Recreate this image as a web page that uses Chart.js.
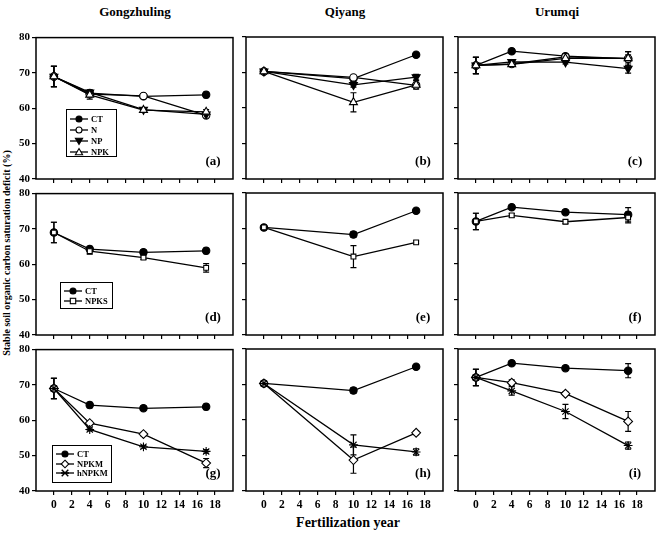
<!DOCTYPE html>
<html>
<head>
<meta charset="utf-8">
<title>Stable soil organic carbon saturation deficit</title>
<script src="https://cdn.jsdelivr.net/npm/chart.js@4.4.1/dist/chart.umd.min.js"></script>
<style>
    body {
        margin: 0;
        width: 660px;
        height: 533px;
        position: relative;
        overflow: hidden;
        background: #fff;
        color: #000;
        font-family: "Liberation Serif", "Times New Roman", serif;
        font-weight: bold;
    }
    canvas { position: absolute; }
    .titulo { position: absolute; top: 4px; font-size: 13px; transform: translateX(-50%); white-space: nowrap; }
    .rotulo { position: absolute; font-size: 13px; transform: translate(-50%, -50%); }
    #eixoY {
        position: absolute; left: 6px; top: 253px; font-size: 10px; white-space: nowrap;
        transform: translate(-50%, -50%) rotate(-90deg);
    }
    #eixoX { position: absolute; left: 348px; top: 523px; font-size: 14px; transform: translate(-50%, -50%); white-space: nowrap; }
    .legenda { position: absolute; border: 1.5px solid #000; box-sizing: border-box; background: #fff; font-size: 8.5px; }
    .legenda div { display: flex; align-items: center; }
    .legenda svg { margin-right: 3px; }
</style>
</head>
<body>

<div class="titulo" style="left:135px">Gongzhuling</div>
<div class="titulo" style="left:345px">Qiyang</div>
<div class="titulo" style="left:557px">Urumqi</div>
<div id="eixoY">Stable soil organic carbon saturation deficit (%)</div>
<div id="eixoX">Fertilization year</div>

<script>
// === Dados ===
const anosGZ = [0, 4, 10, 17];   // Gongzhuling
const anosQY = [0, 10, 17];      // Qiyang
const anosUR = [0, 4, 10, 17];   // Urumqi

const ticksX = [0, 2, 4, 6, 8, 10, 12, 14, 16, 18];
const ticksY = [40, 50, 60, 70, 80];

// Gongzhuling
const gzCT = [69.0, 64.3, 63.4, 63.8];
const gzCTerr = [2.9, 0.8, 0.6, 0.8];
const gzN = [69.0, 64.0, 63.5, 58.0];
const gzNerr = [2.9, 0.6, 0.5, 0.6];
const gzNP = [69.0, 64.5, 59.6, 58.3];
const gzNPerr = [2.9, 0.7, 0.5, 0.6];
const gzNPK = [69.0, 63.8, 59.5, 59.0];
const gzNPKerr = [2.9, 1.2, 0.5, 0.6];
const gzNPKS = [69.0, 63.7, 61.9, 59.0];
const gzNPKSerr = [2.9, 0.8, 0.5, 1.2];
const gzNPKM = [69.0, 59.2, 56.1, 47.9];
const gzNPKMerr = [2.9, 0.5, 0.5, 1.3];
const gzhNPKM = [69.0, 57.4, 52.5, 51.2];
const gzhNPKMerr = [2.9, 0.4, 0.4, 0.5];

// Qiyang
const qyCT = [70.3, 68.3, 75.0];
const qyCTerr = [0.4, 0.8, 0.5];
const qyN = [70.3, 68.6, 66.4];
const qyNerr = [0.4, 0.6, 0.8];
const qyNP = [70.3, 66.5, 68.7];
const qyNPerr = [0.4, 0.6, 0.8];
const qyNPK = [70.3, 61.6, 66.5];
const qyNPKerr = [0.4, 2.7, 1.2];
const qyNPKS = [70.3, 62.1, 66.1];
const qyNPKSerr = [0.4, 3.1, 0.4];
const qyNPKM = [70.3, 48.7, 56.4];
const qyNPKMerr = [0.4, 3.7, 0.5];
const qyhNPKM = [70.3, 53.0, 51.0];
const qyhNPKMerr = [0.4, 2.8, 0.9];

// Urumqi
const urCT = [72.0, 76.0, 74.6, 73.9];
const urCTerr = [2.3, 0.6, 0.5, 2.0];
const urN = [72.0, 72.4, 74.4, 73.9];
const urNerr = [2.3, 0.5, 0.5, 2.0];
const urNP = [72.0, 73.0, 72.9, 71.1];
const urNPerr = [2.3, 0.5, 0.5, 1.3];
const urNPK = [72.0, 72.3, 74.0, 74.0];
const urNPKerr = [2.3, 0.5, 0.5, 1.0];
const urNPKS = [72.0, 73.7, 71.9, 73.1];
const urNPKSerr = [2.3, 0.5, 0.5, 1.5];
const urNPKM = [72.0, 70.5, 67.4, 59.6];
const urNPKMerr = [2.3, 0.8, 0.5, 2.8];
const urhNPKM = [72.0, 68.2, 62.4, 52.8];
const urhNPKMerr = [2.3, 1.2, 2.0, 1.0];

// === Estilo dos marcadores por tratamento ===
const estilos = {
    CT: { pointStyle: "circle", fill: "#000", radius: 3.7 },
    N: { pointStyle: "circle", fill: "#fff", radius: 3.7 },
    NP: { pointStyle: "triangle", fill: "#000", radius: 4.6, rotation: 180 },
    NPK: { pointStyle: "triangle", fill: "#fff", radius: 4.6 },
    NPKS: { pointStyle: "rect", fill: "#fff", radius: 3.4 },
    NPKM: { pointStyle: "rectRot", fill: "#fff", radius: 4.4 },
    hNPKM: { pointStyle: "star", fill: "#000", radius: 4.4 },
};

// === Área de plotagem de cada painel (px na página) ===
const colunas = [36, 246, 458];
const linhas = [37, 193, 349];
const larguraPlot = 197;
const alturaPlot = 142;

const painéis = [
    { letra: "a", col: 0, lin: 0, anos: anosGZ, series: [["CT", gzCT, gzCTerr], ["N", gzN, gzNerr], ["NP", gzNP, gzNPerr], ["NPK", gzNPK, gzNPKerr]],
      legenda: { left: 66, top: 109, w: 51, h: 48, linha: 11 } },
    { letra: "b", col: 1, lin: 0, anos: anosQY, series: [["CT", qyCT, qyCTerr], ["N", qyN, qyNerr], ["NP", qyNP, qyNPerr], ["NPK", qyNPK, qyNPKerr]] },
    { letra: "c", col: 2, lin: 0, anos: anosUR, series: [["CT", urCT, urCTerr], ["N", urN, urNerr], ["NP", urNP, urNPerr], ["NPK", urNPK, urNPKerr]] },
    { letra: "d", col: 0, lin: 1, anos: anosGZ, series: [["CT", gzCT, gzCTerr], ["NPKS", gzNPKS, gzNPKSerr]],
      legenda: { left: 60, top: 282, w: 53, h: 27, linha: 10 } },
    { letra: "e", col: 1, lin: 1, anos: anosQY, series: [["CT", qyCT, qyCTerr], ["NPKS", qyNPKS, qyNPKSerr]] },
    { letra: "f", col: 2, lin: 1, anos: anosUR, series: [["CT", urCT, urCTerr], ["NPKS", urNPKS, urNPKSerr]] },
    { letra: "g", col: 0, lin: 2, anos: anosGZ, series: [["CT", gzCT, gzCTerr], ["NPKM", gzNPKM, gzNPKMerr], ["hNPKM", gzhNPKM, gzhNPKMerr]],
      legenda: { left: 52, top: 445, w: 60, h: 38, linha: 9.7 } },
    { letra: "h", col: 1, lin: 2, anos: anosQY, series: [["CT", qyCT, qyCTerr], ["NPKM", qyNPKM, qyNPKMerr], ["hNPKM", qyhNPKM, qyhNPKMerr]] },
    { letra: "i", col: 2, lin: 2, anos: anosUR, series: [["CT", urCT, urCTerr], ["NPKM", urNPKM, urNPKMerr], ["hNPKM", urhNPKM, urhNPKMerr]] },
];

// === Plugin: barras de erro e moldura ===
const barrasErro = {
    id: "barrasErro",
    beforeDatasetsDraw(chart) {
        const ctx = chart.ctx;
        const x = chart.scales.x, y = chart.scales.y;
        ctx.save();
        ctx.strokeStyle = "#000";
        ctx.lineWidth = 1.2;
        chart.data.datasets.forEach((ds) => {
            ds.data.forEach((p, i) => {
                const e = ds.erros[i];
                if (!e) return;
                const px = x.getPixelForValue(p.x);
                const y1 = y.getPixelForValue(p.y + e);
                const y2 = y.getPixelForValue(p.y - e);
                ctx.beginPath();
                ctx.moveTo(px, y1); ctx.lineTo(px, y2);
                ctx.moveTo(px - 3, y1); ctx.lineTo(px + 3, y1);
                ctx.moveTo(px - 3, y2); ctx.lineTo(px + 3, y2);
                ctx.stroke();
            });
        });
        ctx.restore();
    },
    afterDraw(chart) {
        const a = chart.chartArea;
        const ctx = chart.ctx;
        ctx.save();
        ctx.strokeStyle = "#000";
        ctx.lineWidth = 1.5;
        ctx.strokeRect(a.left, a.top, a.right - a.left, a.bottom - a.top);
        ctx.restore();
    },
};

// === Símbolo SVG para a legenda ===
function simbolo(nome, largura) {
    const s = estilos[nome];
    const c = largura / 2;
    let m = "";
    const attr = `fill="${s.fill}" stroke="#000" stroke-width="1.1"`;
    if (s.pointStyle === "circle") m = `<circle cx="${c}" cy="5" r="3" ${attr}/>`;
    else if (s.pointStyle === "triangle" && s.rotation) m = `<polygon points="${c},8.5 ${c + 3.6},2.2 ${c - 3.6},2.2" ${attr}/>`;
    else if (s.pointStyle === "triangle") m = `<polygon points="${c},1.5 ${c + 3.6},7.8 ${c - 3.6},7.8" ${attr}/>`;
    else if (s.pointStyle === "rect") m = `<rect x="${c - 2.7}" y="2.3" width="5.4" height="5.4" ${attr}/>`;
    else if (s.pointStyle === "rectRot") m = `<polygon points="${c},1.2 ${c + 3.8},5 ${c},8.8 ${c - 3.8},5" ${attr}/>`;
    else m = `<path d="M${c - 3.3} 1.7L${c + 3.3} 8.3M${c - 3.3} 8.3L${c + 3.3} 1.7M${c - 4} 5H${c + 4}" stroke="#000" stroke-width="1.4"/>`;
    return `<svg width="${largura}" height="10"><line x1="0" y1="5" x2="${largura}" y2="5" stroke="#000" stroke-width="1.3"/>${m}</svg>`;
}

function desenharLegenda(p) {
    const L = p.legenda;
    const div = document.createElement("div");
    div.className = "legenda";
    div.style.cssText = `left:${L.left}px;top:${L.top}px;width:${L.w}px;height:${L.h}px;padding:3px 0 0 3px`;
    p.series.forEach(([nome]) => {
        div.innerHTML += `<div style="height:${L.linha}px">${simbolo(nome, 18)}<span>${nome}</span></div>`;
    });
    document.body.appendChild(div);
}

// === Desenha um painel ===
function desenharPainel(p) {
    const esquerda = colunas[p.col], topo = linhas[p.lin];
    const canvas = document.createElement("canvas");
    canvas.width = 36 + larguraPlot + 4;
    canvas.height = 8 + alturaPlot + 30;
    canvas.style.left = (esquerda - 36) + "px";
    canvas.style.top = (topo - 8) + "px";
    document.body.appendChild(canvas);

    const fonte = { family: '"Liberation Serif", "Times New Roman", serif', weight: "bold", size: 11.5 };

    const datasets = p.series.map(([nome, valores, erros], i) => {
        const s = estilos[nome];
        return {
            label: nome,
            data: valores.map((v, k) => ({ x: p.anos[k], y: v })),
            erros: erros,
            showLine: true,
            borderColor: "#000",
            borderWidth: 1.3,
            pointStyle: s.pointStyle,
            pointRotation: s.rotation || 0,
            pointRadius: s.radius,
            pointBackgroundColor: s.fill,
            pointBorderColor: "#000",
            pointBorderWidth: 1.1,
            order: -i,
        };
    });

    new Chart(canvas, {
        type: "scatter",
        data: { datasets },
        options: {
            responsive: false,
            animation: false,
            events: [],
            layout: { padding: { left: 0, top: 8, right: 4, bottom: 0 }, autoPadding: false },
            plugins: { legend: { display: false }, tooltip: { enabled: false } },
            scales: {
                x: {
                    type: "linear",
                    min: -2,
                    max: 20,
                    afterBuildTicks: (s) => { s.ticks = ticksX.map((v) => ({ value: v })); },
                    afterFit: (s) => { s.height = 30; },
                    border: { display: false },
                    grid: { drawOnChartArea: false, drawTicks: true, tickLength: 4, color: "#000", lineWidth: 1.2 },
                    ticks: { display: p.lin === 2, color: "#000", font: fonte, padding: 3, maxRotation: 0 },
                },
                y: {
                    min: 40,
                    max: 80,
                    afterBuildTicks: (s) => { s.ticks = ticksY.map((v) => ({ value: v })); },
                    afterFit: (s) => { s.width = 36; },
                    border: { display: false },
                    grid: { drawOnChartArea: false, drawTicks: true, tickLength: 4, color: "#000", lineWidth: 1.2 },
                    ticks: { display: p.col === 0, color: "#000", font: { ...fonte, size: 11 }, padding: 2 },
                },
            },
        },
        plugins: [barrasErro],
    });

    // Rótulo do painel (a), (b)...
    const r = document.createElement("div");
    r.className = "rotulo";
    r.style.left = (esquerda + larguraPlot - 20) + "px";
    r.style.top = (topo + alturaPlot - 18) + "px";
    r.textContent = `(${p.letra})`;
    document.body.appendChild(r);

    if (p.legenda) desenharLegenda(p);
}

painéis.forEach(desenharPainel);
</script>
</body>
</html>
